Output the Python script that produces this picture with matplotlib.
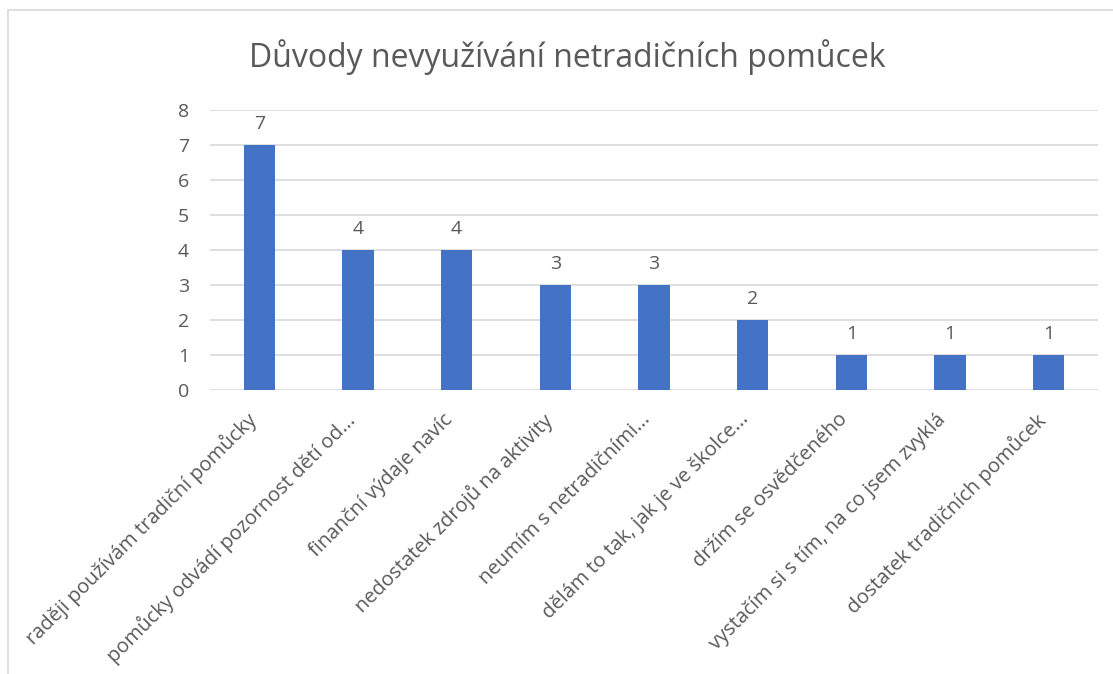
import matplotlib.pyplot as plt
from matplotlib.patches import Rectangle
from matplotlib.transforms import ScaledTranslation

categories = ["raději používám tradiční pomůcky",
              "pomůcky odvádí pozornost dětí od...",
              "finanční výdaje navíc",
              "nedostatek zdrojů na aktivity",
              "neumím s netradičními...",
              "dělám to tak, jak je ve školce...",
              "držím se osvědčeného",
              "vystačím si s tím, na co jsem zvyklá",
              "dostatek tradičních pomůcek"]
values = [7, 4, 4, 3, 3, 2, 1, 1, 1]
yticks = [0, 1, 2, 3, 4, 5, 6, 7, 8]

txt = "#595959"
plt.rcParams['font.family'] = ['Open Sans', 'DejaVu Sans']

fig = plt.figure(figsize=(11.13, 6.74), dpi=100)
# chart border
fig.patches.append(Rectangle((8 / 1113, -0.1), 1.2, 1 - 10 / 674 + 0.1,
                             transform=fig.transFigure, fill=False,
                             edgecolor="#D9D9D9", linewidth=1.2))

ax = fig.add_axes([0.1887, 0.4221, 0.7978, 0.4154])
x = range(len(categories))
bars = ax.bar(x, values, width=0.315, color="#4472C4", zorder=2)
lab_off = ax.transData + ScaledTranslation(0, 16 / 100, fig.dpi_scale_trans)
for b, v in zip(bars, values):
    ax.text(b.get_x() + b.get_width() / 2, v, str(v), ha="center", va="baseline",
            fontsize=14, color=txt, transform=lab_off)

ax.set_xlim(-0.5, len(categories) - 0.5)
ax.set_ylim(0, 8)
ax.set_yticks(yticks)
ax.grid(axis="y", color="#D9D9D9", linewidth=1.2, zorder=0)
ax.set_xticks(list(x))
ax.set_xticklabels([])

# slanted category labels, pushed a bit left/down like excel does
off = ax.get_xaxis_transform() + ScaledTranslation(-14 / 100, -20 / 100, fig.dpi_scale_trans)
for i, c in zip(x, categories):
    ax.text(i, 0, c, transform=off, rotation=45, ha="right", va="top",
            rotation_mode="anchor", fontsize=14.5, color=txt, clip_on=False)

for s in ax.spines.values():
    s.set_visible(False)
ax.tick_params(axis="both", length=0, labelcolor=txt)
ax.tick_params(axis="y", pad=15, labelsize=14)

fig.text(567 / 1113, 1 - 57 / 674, "Důvody nevyužívání netradičních pomůcek",
         ha="center", va="center", fontsize=23, color=txt)

fig.savefig("out.png", dpi=100)
